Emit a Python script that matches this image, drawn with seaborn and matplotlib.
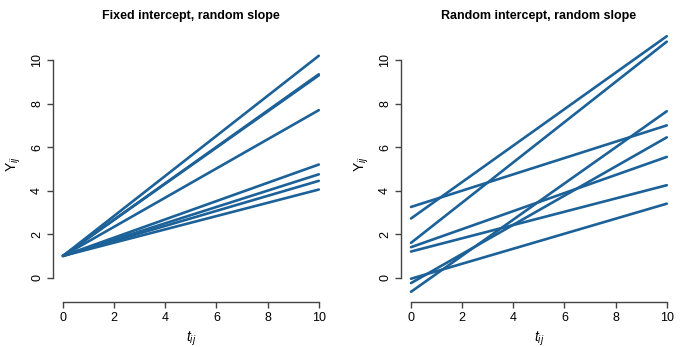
import numpy as np
import pandas as pd
import seaborn as sns
import matplotlib
matplotlib.use("Agg")
import matplotlib.pyplot as plt

sns.set_style("white")
plt.rcParams['font.family'] = ['Liberation Sans', 'DejaVu Sans']
plt.rcParams['mathtext.fontset'] = 'custom'
plt.rcParams['mathtext.rm'] = 'Liberation Sans'
plt.rcParams['mathtext.it'] = 'Liberation Sans:italic'
plt.rcParams['text.color'] = 'black'
plt.rcParams['axes.labelcolor'] = 'black'

# Data: line values at t=0 and t=10
t_start = 0
t_end = 10
left_start = [1, 1, 1, 1, 1, 1, 1, 1]
left_end = [10.2, 9.35, 9.3, 7.7, 5.2, 4.75, 4.45, 4.05]
right_start = [3.25, 2.72, 1.6, 1.4, 1.2, -0.05, -0.25, -0.65]
right_end = [7.0, 11.1, 10.85, 5.55, 4.25, 3.4, 6.45, 7.65]
titles = ["Fixed intercept, random slope", "Random intercept, random slope"]
ticks = [0, 2, 4, 6, 8, 10]

color = "#1c6198"

def make_df(starts, ends):
    rows = []
    for i, (a, b) in enumerate(zip(starts, ends)):
        rows.append({"id": i, "t": t_start, "y": a})
        rows.append({"id": i, "t": t_end, "y": b})
    return pd.DataFrame(rows)

fig = plt.figure(figsize=(6.85, 3.47), dpi=100)
W, H = 685, 347
def ax_at(x0, x1, y0, y1):
    return fig.add_axes([x0 / W, 1 - y1 / H, (x1 - x0) / W, (y1 - y0) / H])

axes = [ax_at(52.8, 329, 26, 302), ax_at(400.8, 677, 26, 302)]

allv = left_start + left_end + right_start + right_end
ymin, ymax = min(allv), max(allv)
pad = 0.04 * (ymax - ymin)

for ax, (s, e), title in zip(axes, [(left_start, left_end), (right_start, right_end)], titles):
    df = make_df(s, e)
    sns.lineplot(data=df, x="t", y="y", units="id", estimator=None,
                 color=color, lw=1.9, ax=ax, legend=False)
    ax.set_xlim(-0.4, 10.4)
    ax.set_ylim(ymin - pad, ymax + pad)
    ax.set_xticks(ticks)
    ax.set_yticks(ticks)
    ax.set_xticklabels([str(v) for v in ticks], fontsize=9)
    ax.set_yticklabels([str(v) for v in ticks], fontsize=9, rotation=90, va='center')
    for sp in ["top", "right"]:
        ax.spines[sp].set_visible(False)
    for sp in ["left", "bottom"]:
        ax.spines[sp].set_color("#444444")
        ax.spines[sp].set_linewidth(1.0)
    ax.spines["left"].set_bounds(0, 10)
    ax.spines["bottom"].set_bounds(0, 10)
    ax.tick_params(axis='both', direction='out', length=4, width=1.0,
                   color="#444444", labelcolor="black", pad=3,
                   bottom=True, left=True)
    ax.set_xlabel(r"$t_{ij}$", fontsize=10, labelpad=4)
    ax.set_ylabel(r"$\mathrm{Y}_{ij}$", fontsize=10, labelpad=6)
    ax.set_title(title, fontsize=9, fontweight='bold', pad=5, color='black')

fig.savefig("out.png", dpi=100)
